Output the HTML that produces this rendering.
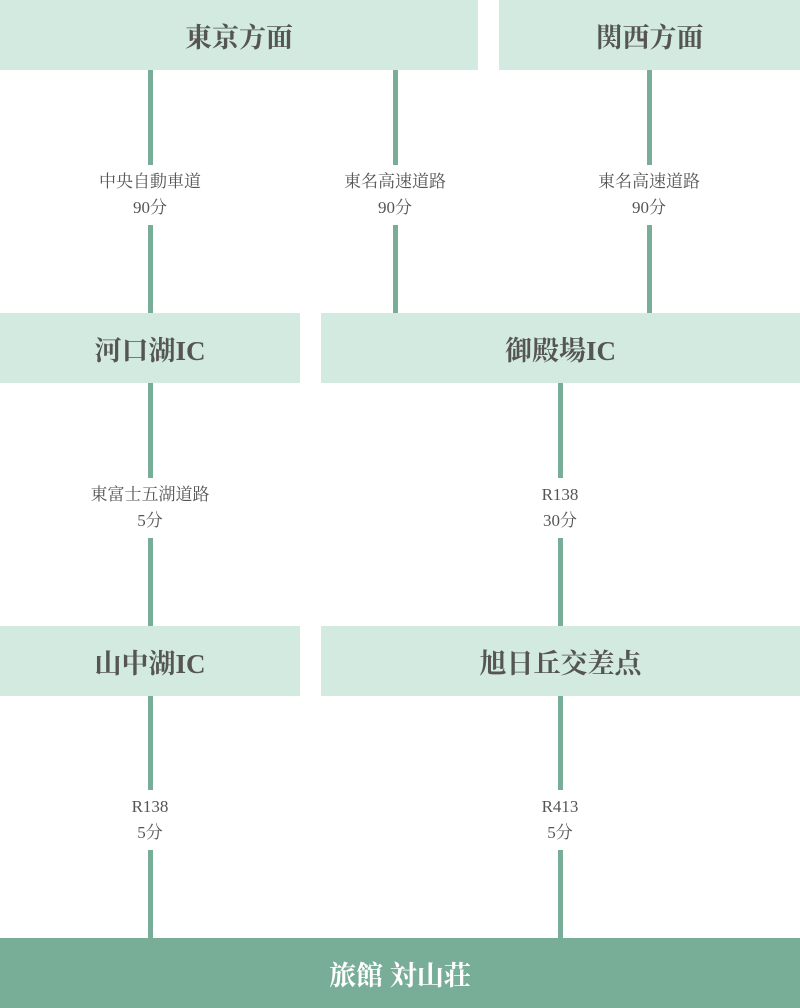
<!DOCTYPE html>
<html><head><meta charset="utf-8"><style>
body{margin:0;width:800px;height:1008px;position:relative;background:#fff;font-family:"Liberation Serif","Noto Serif CJK SC",serif;color:#555;overflow:hidden}
.b{position:absolute;background:#d3eae0;display:flex;align-items:center;justify-content:center;font-size:27px;font-weight:bold;height:70px}
.l{position:absolute;width:5px;background:#78ae97}
.t{position:absolute;width:200px;text-align:center;font-size:17px;line-height:26px;background:#fff;padding:4px 0}
</style></head><body>
<div class="l" style="left:148px;top:70px;height:243px"></div>
<div class="l" style="left:393px;top:70px;height:243px"></div>
<div class="l" style="left:647px;top:70px;height:243px"></div>
<div class="l" style="left:148px;top:382px;height:244px"></div>
<div class="l" style="left:558px;top:382px;height:244px"></div>
<div class="l" style="left:148px;top:695px;height:243px"></div>
<div class="l" style="left:558px;top:695px;height:243px"></div>

<div class="t" style="left:50px;top:165px">中央自動車道<br>90分</div>
<div class="t" style="left:295px;top:165px">東名高速道路<br>90分</div>
<div class="t" style="left:549px;top:165px">東名高速道路<br>90分</div>
<div class="t" style="left:50px;top:478px">東富士五湖道路<br>5分</div>
<div class="t" style="left:460px;top:478px">R138<br>30分</div>
<div class="t" style="left:50px;top:790px">R138<br>5分</div>
<div class="t" style="left:460px;top:790px">R413<br>5分</div>

<div class="b" style="left:0;top:0;width:478px">東京方面</div>
<div class="b" style="left:499px;top:0;width:301px">関西方面</div>
<div class="b" style="left:0;top:313px;width:300px">河口湖IC</div>
<div class="b" style="left:321px;top:313px;width:479px">御殿場IC</div>
<div class="b" style="left:0;top:626px;width:300px">山中湖IC</div>
<div class="b" style="left:321px;top:626px;width:479px">旭日丘交差点</div>
<div class="b" style="left:0;top:938px;width:800px;background:#78ae97;color:#fff">旅館 対山荘</div>
</body></html>
